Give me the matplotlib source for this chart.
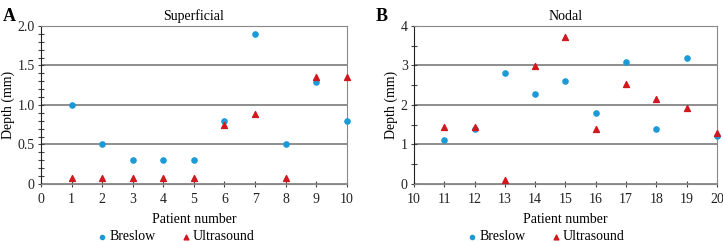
import numpy as np
import matplotlib.pyplot as plt
from matplotlib.ticker import MultipleLocator

# data
patients_a = [1, 2, 3, 4, 5, 6, 7, 8, 9, 10]
breslow_a = [1.0, 0.5, 0.3, 0.3, 0.3, 0.8, 1.9, 0.5, 1.29, 0.8]
ultra_a = [0.08, 0.08, 0.08, 0.08, 0.08, 0.75, 0.89, 0.08, 1.35, 1.35]

patients_b = [11, 12, 13, 14, 15, 16, 17, 18, 19, 20]
breslow_b = [1.12, 1.38, 2.80, 2.29, 2.61, 1.79, 3.09, 1.39, 3.19, 1.22]
ultra_b = [1.43, 1.43, 0.10, 2.99, 3.72, 1.40, 2.54, 2.15, 1.92, 1.29]

plt.rcParams['font.family'] = 'Liberation Serif'
plt.rcParams['font.size'] = 10

blue = '#1b9ad6'
red = '#d2181f'

fig = plt.figure(figsize=(7.23, 2.42), dpi=100)
axA = fig.add_axes([0.0567, 0.2397, 0.423, 0.653])
axB = fig.add_axes([0.5726, 0.2397, 0.419, 0.653])

panels = [
    (axA, patients_a, breslow_a, ultra_a, 'Superficial', 'A', (0, 10), (0, 2), 0.5, 0.1, 98),
    (axB, patients_b, breslow_b, ultra_b, 'Nodal', 'B', (10, 20), (0, 4), 1, 0.5, 468),
]

for ax, x, b, u, title, letter, xl, yl, major, minor, legx in panels:
    ax.set_xlim(*xl)
    ax.set_ylim(*yl)
    ax.yaxis.set_major_locator(MultipleLocator(major))
    ax.yaxis.set_minor_locator(MultipleLocator(minor))
    ax.xaxis.set_major_locator(MultipleLocator(1))
    ax.grid(axis='y', which='major', color='#7a7a7a', lw=1.2)
    ax.set_axisbelow(True)
    for s in ['top', 'right', 'bottom']:
        ax.spines[s].set_color('#888888')
    ax.spines['left'].set_color('#222222')
    ax.tick_params(which='both', direction='inout', color='#444444', length=5, width=0.8,
                   labelcolor='#222222')
    ax.tick_params(axis='x', pad=4)
    ax.tick_params(axis='y', pad=2)
    ax.tick_params(which='minor', length=4)
    ax.scatter(x, b, s=14, color=blue, marker='o', clip_on=False, zorder=3, label='Breslow')
    ax.scatter(x, u, s=18, color=red, marker='^', clip_on=False, zorder=3, label='Ultrasound')
    if ax is axA:
        ax.set_yticks([0, 0.5, 1.0, 1.5, 2.0])
        ax.set_yticklabels(['0', '0.5', '1.0', '1.5', '2.0'])
    ax.set_ylabel('Depth (mm)', labelpad=2)
    ax.set_xlabel('Patient number', labelpad=5)
    ax.set_title(title, fontsize=10, pad=4)
    ax.text(-0.125, 1.03, letter, transform=ax.transAxes, fontsize=13, fontweight='bold')
    ax.legend(loc='center left', bbox_to_anchor=(legx / 723, 0.022),
              bbox_transform=fig.transFigure, ncol=2, frameon=False,
              handlelength=0.6, handletextpad=0.2, columnspacing=1.9, markerscale=0.8,
              borderpad=0, borderaxespad=0)

plt.savefig('out.png', dpi=100)
